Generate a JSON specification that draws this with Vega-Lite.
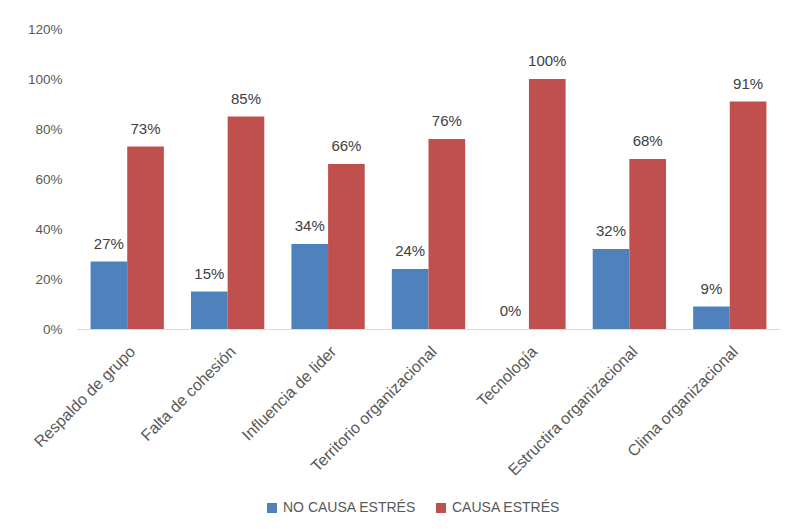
{
  "$schema": "https://vega.github.io/schema/vega-lite/v6.json",
  "width": 703,
  "height": 300,
  "autosize": {"type": "none"},
  "padding": {"left": 77, "top": 29, "right": 9, "bottom": 200},
  "background": "white",
  "config": {
    "view": {"stroke": null},
    "font": "Liberation Sans",
    "axis": {"labelFont": "Liberation Sans", "labelColor": "#595959", "labelFontSize": 14},
    "legend": {"labelFont": "Liberation Sans", "labelColor": "#595959", "labelFontSize": 14}
  },
  "data": {
    "values": [
      {"factor": "Respaldo de grupo", "serie": "NO CAUSA ESTRÉS", "valor": 0.27},
      {"factor": "Respaldo de grupo", "serie": "CAUSA ESTRÉS", "valor": 0.73},
      {"factor": "Falta de cohesión", "serie": "NO CAUSA ESTRÉS", "valor": 0.15},
      {"factor": "Falta de cohesión", "serie": "CAUSA ESTRÉS", "valor": 0.85},
      {"factor": "Influencia de lider", "serie": "NO CAUSA ESTRÉS", "valor": 0.34},
      {"factor": "Influencia de lider", "serie": "CAUSA ESTRÉS", "valor": 0.66},
      {"factor": "Territorio organizacional", "serie": "NO CAUSA ESTRÉS", "valor": 0.24},
      {"factor": "Territorio organizacional", "serie": "CAUSA ESTRÉS", "valor": 0.76},
      {"factor": "Tecnología", "serie": "NO CAUSA ESTRÉS", "valor": 0.0},
      {"factor": "Tecnología", "serie": "CAUSA ESTRÉS", "valor": 1.0},
      {"factor": "Estructira organizacional", "serie": "NO CAUSA ESTRÉS", "valor": 0.32},
      {"factor": "Estructira organizacional", "serie": "CAUSA ESTRÉS", "valor": 0.68},
      {"factor": "Clima organizacional", "serie": "NO CAUSA ESTRÉS", "valor": 0.09},
      {"factor": "Clima organizacional", "serie": "CAUSA ESTRÉS", "valor": 0.91}
    ]
  },
  "encoding": {
    "x": {
      "field": "factor", "type": "nominal", "sort": null, "title": null,
      "scale": {"paddingInner": 0.27, "paddingOuter": 0.135},
      "axis": {"labelAngle": -45, "labelAlign": "right", "labelBaseline": "top", "ticks": false, "domainColor": "#d9d9d9", "domainWidth": 1, "labelPadding": 14, "labelFontSize": 16}
    },
    "xOffset": {"field": "serie", "type": "nominal", "sort": ["NO CAUSA ESTRÉS", "CAUSA ESTRÉS"]},
    "y": {
      "field": "valor", "type": "quantitative", "title": null,
      "scale": {"domain": [0, 1.2], "nice": false},
      "axis": {"format": ".0%", "values": [0, 0.2, 0.4, 0.6, 0.8, 1.0, 1.2], "grid": false, "domain": false, "ticks": false, "labelPadding": 15, "labelFontSize": 13.5}
    }
  },
  "layer": [
    {
      "mark": {"type": "bar"},
      "encoding": {
        "color": {
          "field": "serie", "type": "nominal", "sort": ["NO CAUSA ESTRÉS", "CAUSA ESTRÉS"],
          "scale": {"domain": ["NO CAUSA ESTRÉS", "CAUSA ESTRÉS"], "range": ["#4F81BD", "#C0504D"]},
          "legend": {"title": null, "orient": "none", "legendX": 188, "legendY": 472, "direction": "horizontal", "columns": 2, "symbolType": "square", "symbolSize": 100, "symbolStrokeWidth": 0, "columnPadding": 17, "labelOffset": 4}
        }
      }
    },
    {
      "mark": {"type": "text", "baseline": "alphabetic", "dy": -13, "fontSize": 15, "color": "#404040"},
      "encoding": {
        "text": {"field": "valor", "type": "quantitative", "format": ".0%"}
      }
    }
  ]
}
